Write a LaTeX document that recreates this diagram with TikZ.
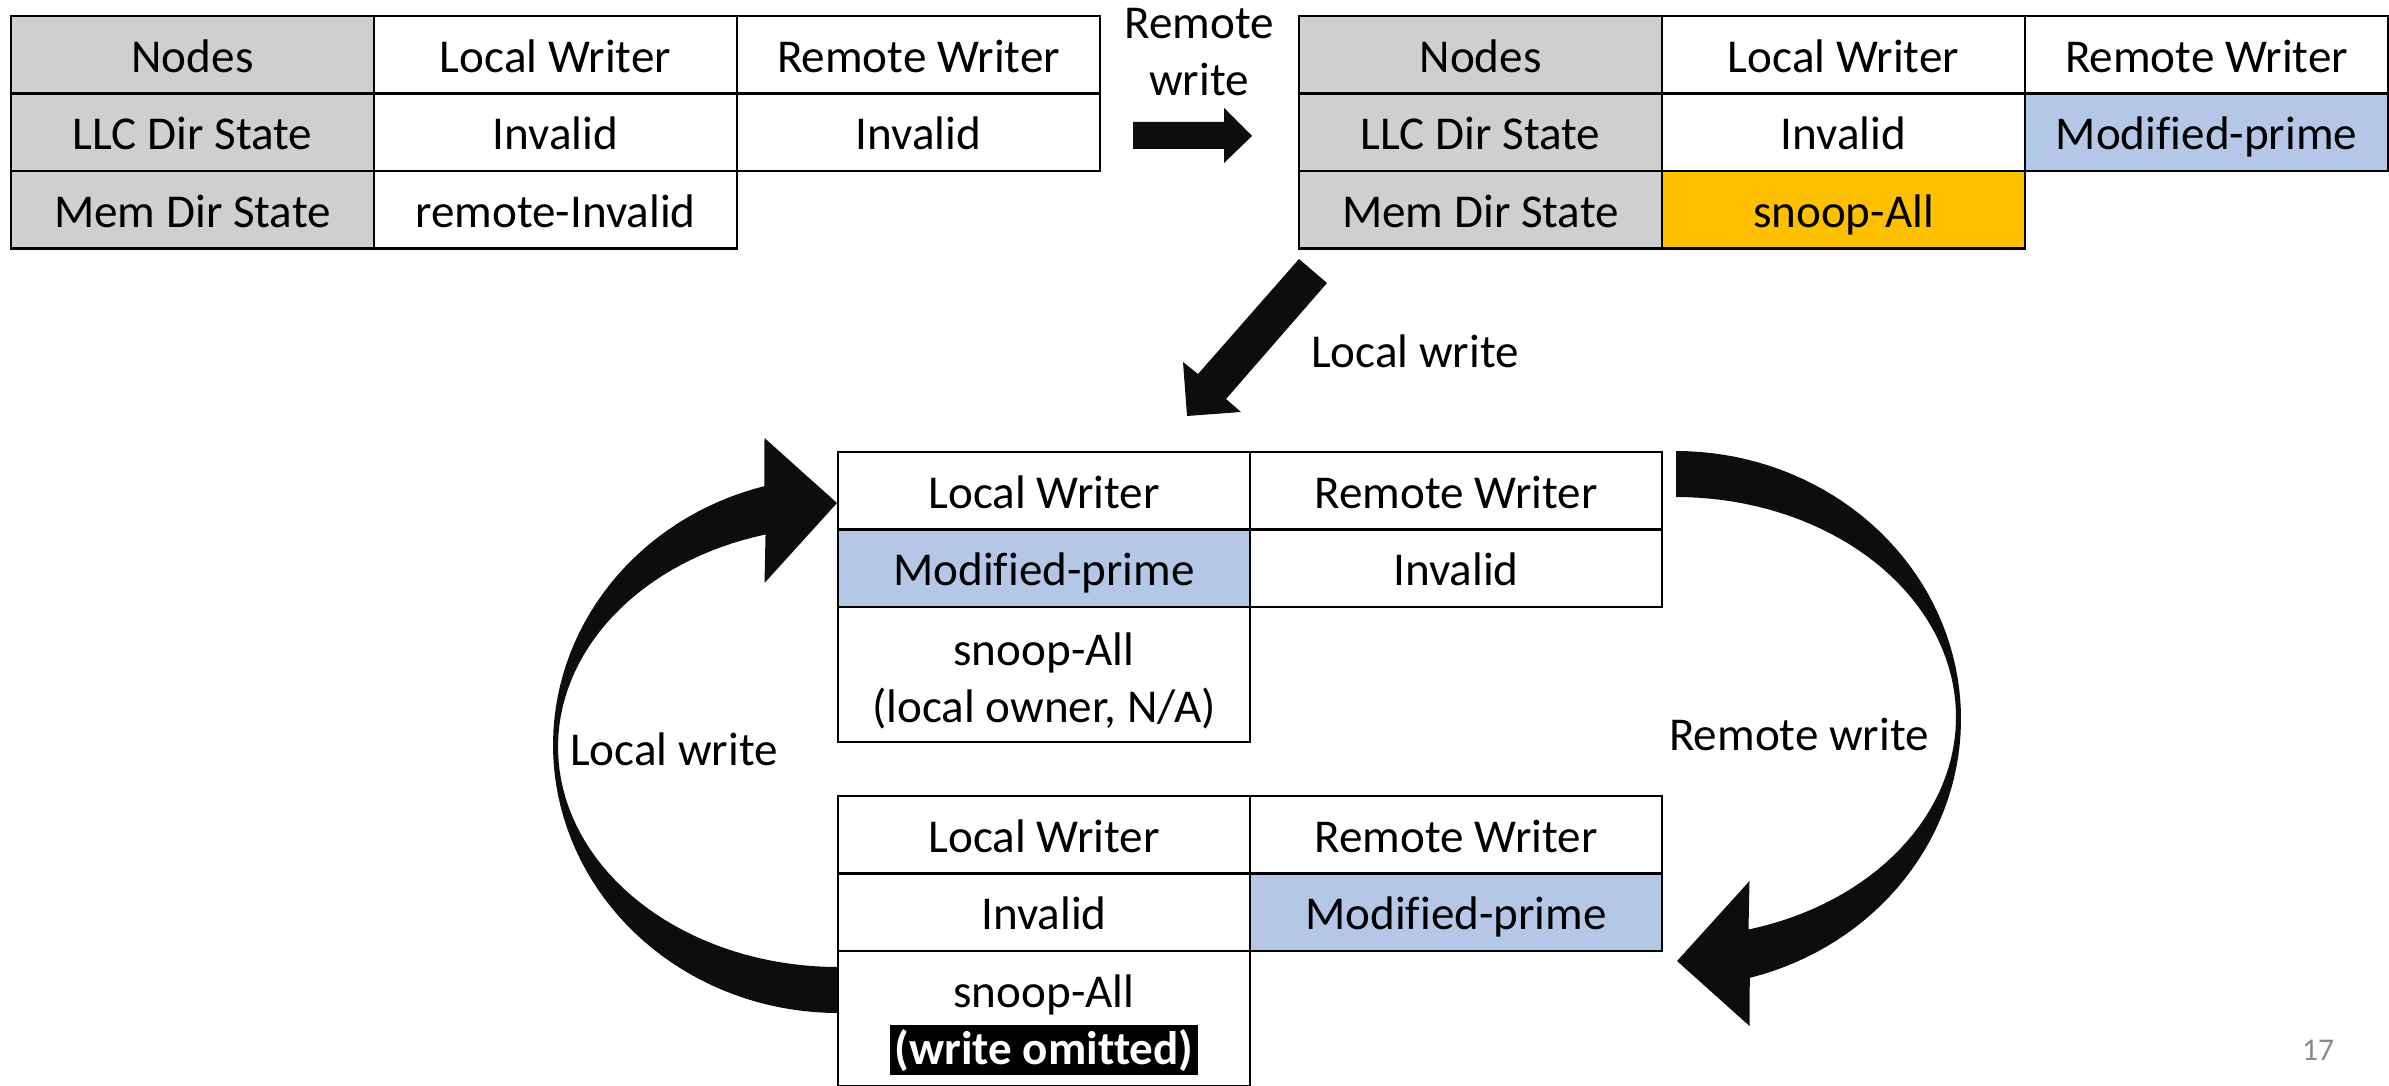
\documentclass[tikz,border=0pt]{standalone}
\usepackage{fontspec}
\setmainfont{Carlito}[Ligatures=CommonOff]
\definecolor{hdrgray}{HTML}{D0CECE}
\definecolor{stblue}{HTML}{B4C7E7}
\definecolor{storange}{HTML}{FFC000}
\definecolor{arrowblack}{HTML}{0D0D0D}
\definecolor{pagegray}{HTML}{8A8A8A}
\newcommand{\omitbox}[1]{{\setlength{\fboxsep}{1.2pt}\colorbox{black}{\textcolor{white}{\bfseries #1}}}}
\begin{document}
\begin{tikzpicture}[x=0.01cm, y=-0.01cm,
  every node/.style={font=\fontsize{13.4pt}{16.1pt}\selectfont},
  cell/.style={draw=black, line width=0.7pt, inner sep=0pt, text height=10.5pt, text depth=0.5pt, minimum height=0.775cm},
  tcell/.style={cell, minimum width=3.63cm},
  mcell/.style={cell, minimum width=4.12cm},
  tallcell/.style={draw=black, line width=0.7pt, inner sep=0pt, minimum width=4.12cm, minimum height=1.35cm},
  talltext/.style={inner sep=0pt, align=center},
  lbl/.style={inner sep=0pt, text height=10.5pt, text depth=0.5pt},
  blockarrow/.style={fill=arrowblack, draw=none}
]
\useasboundingbox (0,0) rectangle (2389,1085);

% block arrows
\fill[blockarrow] (1133,122) -- (1224,122) -- (1224,108) -- (1252,136) -- (1224,163) -- (1224,149) -- (1133,149) -- cycle;
\fill[blockarrow] (1299,259) -- (1327,283) -- (1226,399) -- (1241,412) -- (1187,416) -- (1183,362) -- (1198,374) -- cycle;
\fill[blockarrow] plot[domain=90:255, samples=70] ({838+285*cos(\x)},{745+268*sin(\x)}) -- (764.5,438) -- (837,503) -- (764.5,583) -- plot[domain=255:90, samples=70] ({838+280*cos(\x)},{747+220*sin(\x)}) -- cycle;
\begin{scope}[rotate around={180:(1257,732)}]
\fill[blockarrow] plot[domain=90:255, samples=70] ({838+285*cos(\x)},{745+268*sin(\x)}) -- (764.5,438) -- (837,503) -- (764.5,583) -- plot[domain=255:90, samples=70] ({838+280*cos(\x)},{747+220*sin(\x)}) -- cycle;
\end{scope}

% top-left table
\node[tcell, fill=hdrgray] (a11) at (192.5,54.75) {Nodes};
\node[tcell] (a12) at (555.5,54.75) {Local Writer};
\node[tcell] (a13) at (918.5,54.75) {Remote Writer};
\node[tcell, fill=hdrgray] (a21) at (192.5,132.25) {LLC Dir State};
\node[tcell] (a22) at (555.5,132.25) {Invalid};
\node[tcell] (a23) at (918.5,132.25) {Invalid};
\node[tcell, fill=hdrgray] (a31) at (192.5,209.75) {Mem Dir State};
\node[tcell] (a32) at (555.5,209.75) {remote-Invalid};

% top-right table
\node[tcell, fill=hdrgray] (b11) at (1480.5,54.75) {Nodes};
\node[tcell] (b12) at (1843.5,54.75) {Local Writer};
\node[tcell] (b13) at (2206.5,54.75) {Remote Writer};
\node[tcell, fill=hdrgray] (b21) at (1480.5,132.25) {LLC Dir State};
\node[tcell] (b22) at (1843.5,132.25) {Invalid};
\node[tcell, fill=stblue] (b23) at (2206.5,132.25) {Modified-prime};
\node[tcell, fill=hdrgray] (b31) at (1480.5,209.75) {Mem Dir State};
\node[tcell, fill=storange] (b32) at (1843.5,209.75) {snoop-All};

% middle table
\node[mcell] (c11) at (1044,490.75) {Local Writer};
\node[mcell] (c12) at (1456,490.75) {Remote Writer};
\node[mcell, fill=stblue] (c21) at (1044,568.25) {Modified-prime};
\node[mcell] (c22) at (1456,568.25) {Invalid};
\node[tallcell] (c31) at (1044,674.5) {};
\node[talltext] (c31t) at (1044,681) {snoop-All\\(local owner, N/A)};

% bottom table
\node[mcell] (d11) at (1044,834.75) {Local Writer};
\node[mcell] (d12) at (1456,834.75) {Remote Writer};
\node[mcell] (d21) at (1044,912.25) {Invalid};
\node[mcell, fill=stblue] (d22) at (1456,912.25) {Modified-prime};
\node[tallcell] (d31) at (1044,1018.5) {};
\node[talltext] (d31t) at (1044,1025) {snoop-All\\\omitbox{(write omitted)}};

% labels
\node[lbl] (rw1) at (1199,21) {Remote};
\node[lbl] (rw2) at (1199,78) {write};
\node[lbl] (lw1) at (1415,350) {Local write};
\node[lbl] (lw2) at (674,748) {Local write};
\node[lbl] (rw3) at (1799,733) {Remote write};
\node[font=\fontsize{9pt}{11pt}\selectfont, text=pagegray, inner sep=0pt] (pg) at (2318,1050) {17};
\end{tikzpicture}
\end{document}
